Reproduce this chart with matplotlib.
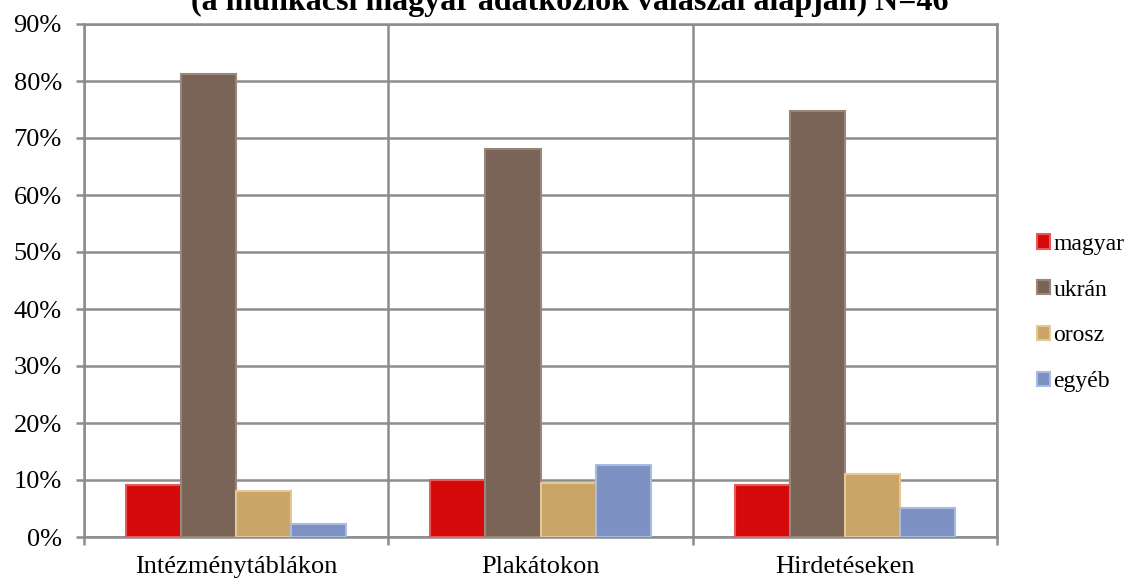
import matplotlib
matplotlib.use("Agg")
import matplotlib.pyplot as plt
import numpy as np
from matplotlib.ticker import FixedLocator, PercentFormatter

categories = ["Intézménytáblákon", "Plakátokon", "Hirdetéseken"]
series = ["magyar", "ukrán", "orosz", "egyéb"]
magyar = [9.1, 10.0, 9.1]
ukran = [81.2, 68.1, 74.8]
orosz = [8.0, 9.4, 11.1]
egyeb = [2.2, 12.6, 5.1]
values = [magyar, ukran, orosz, egyeb]
yticks = [0, 10, 20, 30, 40, 50, 60, 70, 80, 90]
title = "(a munkácsi magyar adatközlők válaszai alapján) N=46"

face = ["#d40a0a", "#7a6357", "#c9a56a", "#7d92c2"]
edge = ["#e85a5a", "#9a8579", "#e3c995", "#a9bbe0"]

plt.rcParams['font.family'] = ['Liberation Serif', 'DejaVu Serif']
fig = plt.figure(figsize=(11.39, 5.79), dpi=100)
ax = fig.add_axes([84/1139, 1-537/579, (997-84)/1139, (537-24)/579])

x = np.arange(len(categories))
w = 0.181
grid_c = "#8c8c8c"
for i, (vals, s) in enumerate(zip(values, series)):
    ax.bar(x + (i - 1.5) * w, vals, width=w, color=face[i], edgecolor=edge[i],
           linewidth=1.5, label=s, zorder=3)

ax.set_xlim(-0.5, len(categories) - 0.5)
ax.set_ylim(0, 90)
ax.set_yticks(yticks)
ax.yaxis.set_major_formatter(PercentFormatter(decimals=0))
ax.set_xticks(x)
ax.set_xticklabels(categories)
ax.xaxis.set_minor_locator(FixedLocator([-0.5, 0.5, 1.5, 2.5]))
ax.tick_params(axis='x', which='major', length=0, pad=14, labelsize=19)
ax.tick_params(axis='x', which='minor', length=6, width=1.8, color=grid_c)
ax.tick_params(axis='y', length=6, width=1.8, color=grid_c, pad=10, labelsize=19)
ax.grid(axis='y', color=grid_c, linewidth=1.8, zorder=1)
ax.grid(axis='x', which='minor', color=grid_c, linewidth=1.8, zorder=1)
ax.set_axisbelow(True)
for sp in ax.spines.values():
    sp.set_color(grid_c)
    sp.set_linewidth(1.8)

fig.legend(loc='center left', bbox_to_anchor=(1037/1139, 1 - 313/579), frameon=False,
           fontsize=17, handlelength=0.56, handleheight=0.56, handletextpad=0.13,
           labelspacing=1.05, borderpad=0, borderaxespad=0)

fig.text(0.5, 1 - 2/579, title, ha='center', va='center', fontsize=23, fontweight='bold')

fig.savefig("out.png", dpi=100)
